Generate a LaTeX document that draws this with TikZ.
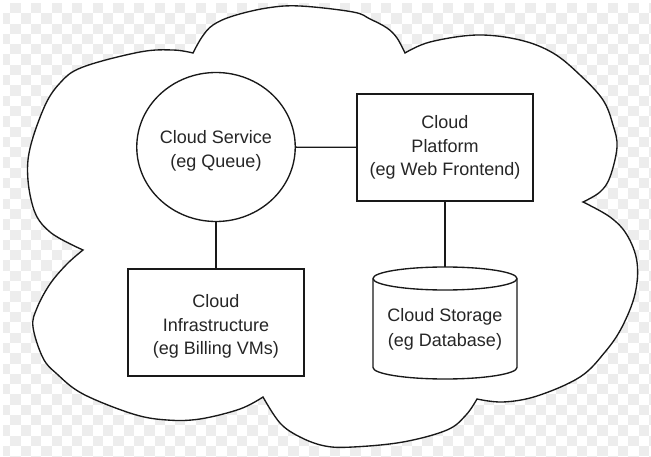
\documentclass[tikz,border=0pt]{standalone}
\usepackage{fontspec}
\setmainfont{Liberation Sans}
\usetikzlibrary{shapes.geometric}
\begin{document}
\begin{tikzpicture}[x=1pt,y=-1pt,
  line width=1.35pt,
  ink/.style={draw=black!90},
  txt/.style={font=\fontsize{18}{23.5}\selectfont, text=black!85, align=center},
  boxnode/.style={ink, txt, fill=white, rectangle, minimum width=176pt, minimum height=107pt, inner sep=0pt},
  svcnode/.style={ink, txt, fill=white, ellipse, minimum width=143pt, minimum height=149pt, inner sep=0pt},
  link/.style={ink, line width=1.35pt},
  cloudline/.style={draw=black!90, line width=1.35pt, fill=white},
  chk/.style={fill=black!7}]
\useasboundingbox (0,0) rectangle (651,457);
% transparency checkerboard
\begin{scope}
\clip (3,3) rectangle (651,457);
\foreach \i in {0,...,63}{
  \foreach \j in {0,...,44}{
    \pgfmathtruncatemacro\k{mod(\i+\j,2)}
    \ifnum\k=1 \fill[chk] (\i*10.3, 3+\j*10.3) rectangle ++(10.3,10.3); \fi
  }}
\end{scope}
% cloud
\draw[cloudline]
  plot[smooth, tension=0.6] coordinates {(193,53) (202,37) (213,25) (233,16) (267,8) (300,6) (353,12) (370,19) (387,28) (397,38) (405,53)}
  -- plot[smooth, tension=0.6] coordinates {(405,53) (430,42) (477,35) (520,40) (553,53) (580,75) (603,100) (613,125) (617,147) (610,177) (600,192) (583,202)}
  -- plot[smooth, tension=0.6] coordinates {(583,202) (610,217) (627,235) (637,262) (635,294) (622,327) (605,352) (580,377) (537,396) (503,402) (477,399)}
  -- plot[smooth, tension=0.6] coordinates {(477,399) (466,415) (447,430) (403,442) (353,447) (325,446) (300,437) (280,423) (263,397)}
  -- plot[smooth, tension=0.6] coordinates {(263,397) (240,409) (200,419) (167,420) (133,414) (83,394) (57,374) (43,358) (33,327) (37,308) (50,284) (67,264) (83,250)}
  -- plot[smooth, tension=0.6] coordinates {(83,250) (50,232) (33,207) (28,160) (43,110) (60,83) (83,67) (140,52) (173,50) (193,53)}
  -- cycle;
% nodes
\node[svcnode] (svc) at (216,147) {\rule{0pt}{21pt}Cloud Service\\(eg Queue)};
\node[boxnode] (plat) at (445,147.5) {Cloud\\Platform\\(eg Web Frontend)};
\node[boxnode] (infra) at (216,322.5) {\rule{0pt}{21pt}Cloud\\Infrastructure\\(eg Billing VMs)};
% cylinder (database)
\draw[ink, fill=white] (373,278.5) -- (373,367.5)
  arc[start angle=180, end angle=360, x radius=72pt, y radius=11.5pt]
  -- (517,278.5)
  arc[start angle=0, end angle=180, x radius=72pt, y radius=11.5pt] -- cycle;
\draw[ink] (373,278.5) arc[start angle=180, end angle=360, x radius=72pt, y radius=11.5pt];
\node[txt, font=\fontsize{18}{25}\selectfont] (db) at (445,329) {Cloud Storage\\(eg Database)};
\coordinate (dbtop) at (445,267);
% connectors
\draw[link] (svc) -- (plat);
\draw[link] (svc.south) -- (infra.north);
\draw[link] (plat.south) -- (dbtop);
\end{tikzpicture}
\end{document}
